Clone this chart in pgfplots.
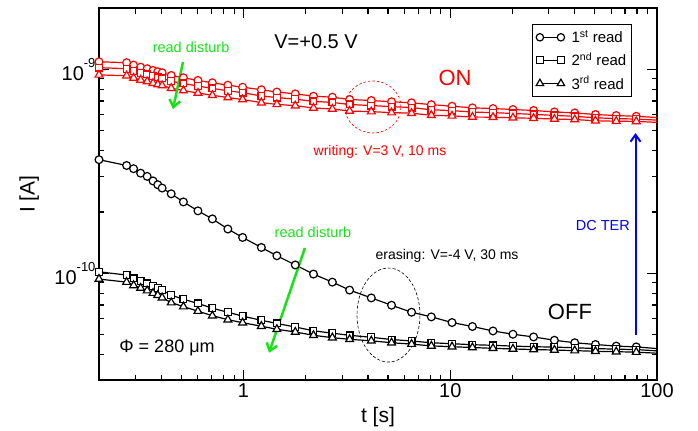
\documentclass[border=0pt]{standalone}
\usepackage{fontspec}
\setmainfont{Liberation Sans}
\usepackage{pgfplots}
\usepackage{pgfplotstable}
\pgfplotsset{compat=1.18}
\usetikzlibrary{arrows.meta}
\newcommand{\setfs}[1]{\fontsize{#1bp}{#1bp}\selectfont}
\definecolor{lgreen}{RGB}{25,225,25}

\pgfplotstableread{
t     on1      on2      on3      off1      off2      off3
0.2   1.09e-9  1.02e-9  9.40e-10 3.61e-10  1.018e-10 9.38e-11
0.272 1.079e-9 1.008e-9 9.31e-10 3.38e-10  9.81e-11  9.06e-11
0.294 1.050e-9 9.83e-10 9.08e-10 3.26e-10  9.45e-11  8.73e-11
0.318 1.026e-9 9.61e-10 8.88e-10 3.10e-10  9.17e-11  8.47e-11
0.342 1.008e-9 9.45e-10 8.73e-10 2.99e-10  8.93e-11  8.23e-11
0.365 9.89e-10 9.26e-10 8.56e-10 2.84e-10  8.69e-11  8.00e-11
0.385 9.74e-10 9.13e-10 8.44e-10 2.72e-10  8.50e-11  7.82e-11
0.404 9.63e-10 9.03e-10 8.34e-10 2.62e-10  8.28e-11  7.60e-11
0.447 9.34e-10 8.76e-10 8.09e-10 2.455e-10 7.82e-11  7.19e-11
0.512 9.10e-10 8.53e-10 7.88e-10 2.24e-10  7.47e-11  6.87e-11
0.602 8.83e-10 8.29e-10 7.66e-10 2.025e-10 7.12e-11  6.53e-11
0.707 8.60e-10 8.07e-10 7.47e-10 1.85e-10  6.75e-11  6.20e-11
0.84  8.37e-10 7.86e-10 7.28e-10 1.65e-10  6.45e-11  5.93e-11
0.99  8.18e-10 7.69e-10 7.12e-10 1.50e-10  6.17e-11  5.73e-11
1.22  7.95e-10 7.41e-10 6.87e-10 1.34e-10  5.89e-11  5.51e-11
1.45  7.75e-10 7.28e-10 6.74e-10 1.22e-10  5.68e-11  5.32e-11
1.78  7.59e-10 7.15e-10 6.64e-10 1.10e-10  5.46e-11  5.16e-11
2.18  7.39e-10 6.97e-10 6.47e-10 9.92e-11  5.23e-11  4.97e-11
2.69  7.31e-10 6.89e-10 6.40e-10 9.06e-11  5.09e-11  4.84e-11
3.26  7.12e-10 6.73e-10 6.25e-10 8.28e-11  4.97e-11  4.75e-11
4.15  7.04e-10 6.65e-10 6.21e-10 7.58e-11  4.86e-11  4.67e-11
5.2   6.94e-10 6.57e-10 6.14e-10 6.98e-11  4.74e-11  4.57e-11
6.5   6.86e-10 6.50e-10 6.10e-10 6.45e-11  4.66e-11  4.50e-11
8.1   6.72e-10 6.34e-10 5.96e-10 6.12e-11  4.57e-11  4.41e-11
10.2  6.60e-10 6.28e-10 5.92e-10 5.74e-11  4.52e-11  4.37e-11
12.8  6.48e-10 6.18e-10 5.84e-10 5.49e-11  4.47e-11  4.33e-11
16.1  6.43e-10 6.14e-10 5.83e-10 5.22e-11  4.44e-11  4.29e-11
20.1  6.36e-10 6.08e-10 5.79e-10 5.03e-11  4.40e-11  4.26e-11
25.3  6.29e-10 6.02e-10 5.76e-10 4.88e-11  4.37e-11  4.23e-11
31.9  6.19e-10 5.95e-10 5.71e-10 4.70e-11  4.35e-11  4.21e-11
40    6.12e-10 5.89e-10 5.68e-10 4.57e-11  4.32e-11  4.18e-11
50.4  6.01e-10 5.79e-10 5.60e-10 4.48e-11  4.28e-11  4.15e-11
63.5  5.94e-10 5.74e-10 5.57e-10 4.40e-11  4.25e-11  4.13e-11
79.4  5.89e-10 5.71e-10 5.56e-10 4.36e-11  4.23e-11  4.11e-11
}\data

\begin{document}
\begin{tikzpicture}
\useasboundingbox (0,0) rectangle (698bp,431bp);
\begin{axis}[
  at={(99bp,51bp)}, anchor=south west,
  width=558bp, height=372bp, scale only axis,
  xmode=log, ymode=log, log basis x=10, log basis y=10,
  xmin=0.2, xmax=100, ymin=3e-11, ymax=2e-9,
  axis line style={line width=1.7bp},
  every tick/.style={black, line width=1.1bp},
  major tick length=10bp, minor tick length=5.5bp,
  tick align=inside,
  xticklabel={\pgfmathparse{int(round(10^\tick))}\pgfmathresult},
  yticklabel={10\raisebox{0.62em}{\setfs{13}\pgfmathparse{int(round(\tick))}\pgfmathresult}},
  tick label style={font=\setfs{20}},
  xlabel={t [s]}, ylabel={I [A]},
  label style={font=\setfs{21}},
  xlabel style={at={(axis description cs:0.5,-0.1)}, anchor=center},
  ylabel style={at={(axis description cs:-0.125,0.5)}, anchor=center},
  clip=false,
  legend style={at={(0.955,0.957)}, anchor=north east, draw=black, line width=1.1bp,
    font=\setfs{15}, cells={anchor=west}, inner xsep=4bp, inner ysep=4bp, row sep=5bp,
    nodes={inner xsep=1bp},
    /tikz/every odd column/.append style={column sep=6bp}},
  legend image code/.code={\draw[#1] plot coordinates {(0bp,0bp) (21bp,0bp)};},
]
% ON state (red)
\addplot[red, line width=1.2bp, mark=*, mark size=3.9bp, mark options={fill=white, solid}, forget plot] table[x=t, y=on1]{\data};
\addplot[red, line width=1.2bp, mark=square*, mark size=3.4bp, mark options={fill=white, solid}, forget plot] table[x=t, y=on2]{\data};
\addplot[red, line width=1.2bp, mark=triangle*, mark size=4.5bp, mark options={fill=white, solid}, forget plot] table[x=t, y=on3]{\data};
\addplot[red, line width=1.2bp, forget plot] coordinates {(79.4,5.89e-10) (100,5.81e-10)};
\addplot[red, line width=1.2bp, forget plot] coordinates {(79.4,5.71e-10) (100,5.64e-10)};
\addplot[red, line width=1.2bp, forget plot] coordinates {(79.4,5.56e-10) (100,5.50e-10)};
% OFF state (black)
\addplot[black, line width=1.2bp, mark=*, mark size=3.9bp, mark options={fill=white, solid}, forget plot] table[x=t, y=off1]{\data};
\addplot[black, line width=1.2bp, mark=square*, mark size=3.4bp, mark options={fill=white, solid}, forget plot] table[x=t, y=off2]{\data};
\addplot[black, line width=1.2bp, mark=triangle*, mark size=4.5bp, mark options={fill=white, solid}, forget plot] table[x=t, y=off3]{\data};
\addplot[black, line width=1.2bp, forget plot] coordinates {(79.4,4.36e-11) (100,4.28e-11)};
\addplot[black, line width=1.2bp, forget plot] coordinates {(79.4,4.23e-11) (100,4.17e-11)};
\addplot[black, line width=1.2bp, forget plot] coordinates {(79.4,4.11e-11) (100,4.06e-11)};
% legend
\addlegendimage{black, line width=1.2bp, mark=*, mark size=3.7bp, mark options={fill=white}}
\addlegendentry{1\textsuperscript{st} read}
\addlegendimage{black, line width=1.2bp, mark=square*, mark size=3.3bp, mark options={fill=white}}
\addlegendentry{2\textsuperscript{nd} read}
\addlegendimage{black, line width=1.2bp, mark=triangle*, mark size=4.3bp, mark options={fill=white}}
\addlegendentry{3\textsuperscript{rd} read}
% annotations
\node[font=\setfs{20}] at (rel axis cs:0.389,0.909) {V=+0.5 V};
\node[lgreen, font=\setfs{14.5}] at (rel axis cs:0.165,0.895) {read disturb};
\draw[lgreen, line width=2.5bp, -{Straight Barb[length=7bp,width=11bp]}] (rel axis cs:0.1505,0.855) -- (rel axis cs:0.1326,0.7285);
\node[red, font=\setfs{22}] at (rel axis cs:0.638,0.812) {ON};
\draw[red, line width=0.6bp, dash pattern=on 2.5bp off 2bp] (rel axis cs:0.491,0.734) ellipse [x radius=28bp, y radius=26bp];
\node[red, font=\setfs{14}] at (rel axis cs:0.5036,0.613) {writing: V=3 V, 10 ms};
\node[blue, font=\setfs{14.5}] at (rel axis cs:0.903,0.4167) {DC TER};
\draw[blue, line width=2bp, -{Straight Barb[length=7bp,width=10bp]}] (rel axis cs:0.9615,0.121) -- (rel axis cs:0.9615,0.664);
\node[black, font=\setfs{14}] at (rel axis cs:0.6237,0.3333) {erasing: V=-4 V, 30 ms};
\draw[black, line width=0.6bp, dash pattern=on 3bp off 2bp] (rel axis cs:0.5188,0.1747) ellipse [x radius=31.5bp, y radius=47bp];
\node[black, font=\setfs{22}] at (rel axis cs:0.844,0.183) {OFF};
\node[lgreen, font=\setfs{14.5}] at (rel axis cs:0.3835,0.398) {read disturb};
\draw[lgreen, line width=2.5bp, -{Straight Barb[length=7bp,width=11bp]}] (rel axis cs:0.369,0.355) -- (rel axis cs:0.3047,0.0734);
\node[black, font=\setfs{18}] at (rel axis cs:0.1219,0.086) {Φ = 280 μm};
\end{axis}
\end{tikzpicture}
\end{document}
